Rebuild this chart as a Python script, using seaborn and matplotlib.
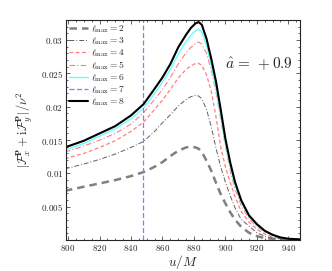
import numpy as np
import matplotlib
matplotlib.use("Agg")
import matplotlib.pyplot as plt
import matplotlib.ticker as mticker
import seaborn as sns

# u/M sample points
u = [798, 810, 820, 830, 840, 848, 855, 860, 865, 870, 875, 878, 881, 883, 885,
     888, 891, 894, 897, 900, 903, 906, 910, 915, 920, 925, 930, 935, 940, 948]

l2 = [0.0074, 0.0080, 0.0085, 0.0090, 0.0096, 0.0102, 0.0110, 0.0117, 0.0126, 0.0134,
      0.0139, 0.0140, 0.0139, 0.0137, 0.0132, 0.0119, 0.0104, 0.0086, 0.0069, 0.0055,
      0.0042, 0.0031, 0.0020, 0.0011, 0.0006, 0.0003, 0.0002, 0.0001, 0.00005, 0.00002]
l3 = [0.0107, 0.0114, 0.0121, 0.0129, 0.0139, 0.0148, 0.0163, 0.0176, 0.0188, 0.0201,
      0.0211, 0.0215, 0.0217, 0.0216, 0.0212, 0.0196, 0.0170, 0.0138, 0.0110, 0.0087,
      0.0067, 0.0049, 0.0031, 0.0021, 0.0011, 0.0006, 0.0003, 0.0002, 0.0001, 0.00005]
l4 = [0.0122, 0.0130, 0.0139, 0.0149, 0.0163, 0.0177, 0.0196, 0.0210, 0.0226, 0.0243,
      0.0256, 0.0261, 0.0265, 0.0265, 0.0262, 0.0248, 0.0223, 0.0185, 0.0140, 0.0110,
      0.0087, 0.0066, 0.0043, 0.0027, 0.0016, 0.0009, 0.0005, 0.0003, 0.0001, 0.00005]
l5 = [0.0132, 0.0141, 0.0150, 0.0160, 0.0174, 0.0191, 0.0211, 0.0226, 0.0244, 0.0264,
      0.0281, 0.0289, 0.0295, 0.0297, 0.0294, 0.0280, 0.0256, 0.0222, 0.0182, 0.0141,
      0.0105, 0.0078, 0.0052, 0.0032, 0.0020, 0.0012, 0.0007, 0.0004, 0.0002, 0.0001]
l6 = [0.0135, 0.0145, 0.0156, 0.0167, 0.0182, 0.0198, 0.0220, 0.0237, 0.0256, 0.0279,
      0.0298, 0.0307, 0.0314, 0.0316, 0.0312, 0.0292, 0.0262, 0.0228, 0.0187, 0.0145,
      0.0111, 0.0083, 0.0057, 0.0035, 0.0022, 0.0013, 0.0007, 0.0004, 0.0002, 0.0001]
l8 = [0.0139, 0.0149, 0.0160, 0.0171, 0.0187, 0.0204, 0.0227, 0.0244, 0.0264, 0.0289,
      0.0308, 0.0318, 0.0325, 0.0327, 0.0323, 0.0302, 0.0272, 0.0238, 0.0196, 0.0152,
      0.0117, 0.0088, 0.0060, 0.0037, 0.0024, 0.0014, 0.0008, 0.0004, 0.0002, 0.0001]
u_l7 = 847.5  # l_max = 7 only shows up as a vertical line

x_ticks = [800, 820, 840, 860, 880, 900, 920, 940]
y_ticks = [0.005, 0.01, 0.015, 0.02, 0.025, 0.03]
y_labels = ["0.005", "0.01", "0.015", "0.02", "0.025", "0.03"]

sns.set_style("ticks")
plt.rcParams["font.family"] = ["DejaVu Serif"]
plt.rcParams["mathtext.fontset"] = "cm"

fig = plt.figure(figsize=(3.32, 2.71), dpi=100)
ax = fig.add_axes([0.198, 0.114, 0.706, 0.812])

styles = [
    (l2, r"$\ell_{\rm max}=2$", "#808080", (0, (3, 2)), 1.8),
    (l3, r"$\ell_{\rm max}=3$", "#606060", (0, (5, 2, 1, 2)), 0.7),
    (l4, r"$\ell_{\rm max}=4$", "#ff7f7f", (0, (3, 2)), 0.9),
    (l5, r"$\ell_{\rm max}=5$", "#ff7f7f", (0, (5, 2, 1, 2)), 0.8),
    (l6, r"$\ell_{\rm max}=6$", "#66ffff", "-", 1.0),
]
for vals, lab, col, ls, lw in styles:
    sns.lineplot(x=u, y=vals, ax=ax, color=col, linestyle=ls, linewidth=lw, label=lab)

ax.axvline(u_l7, color="#8080ff", linestyle=(0, (4, 2)), linewidth=0.9, label=r"$\ell_{\rm max}=7$")
sns.lineplot(x=u, y=l8, ax=ax, color="black", linewidth=1.5, label=r"$\ell_{\rm max}=8$")

ax.set_xlim(798.5, 947.5)
ax.set_ylim(0, 0.033)
ax.set_xticks(x_ticks)
ax.set_yticks(y_ticks)
ax.xaxis.set_major_formatter(mticker.FuncFormatter(lambda v, p: r"$\mathrm{%d}$" % v))
ax.set_yticklabels([r"$\mathrm{%s}$" % s for s in y_labels])
ax.xaxis.set_minor_locator(mticker.MultipleLocator(5))
ax.yaxis.set_minor_locator(mticker.MultipleLocator(0.001))
ax.tick_params(which="both", direction="in", top=True, right=True, labelsize=6.5, width=0.5, pad=2)
ax.tick_params(which="major", length=3)
ax.tick_params(which="minor", length=1.5)
for s in ax.spines.values():
    s.set_linewidth(0.8)

ax.set_xlabel(r"$u/M$", fontsize=9.5, labelpad=0)
ax.set_ylabel(r"$|\mathcal{F}^{\mathbf{P}}_x + \mathrm{i}\mathcal{F}^{\mathbf{P}}_y|/\nu^2$", fontsize=9, labelpad=4)
ax.text(0.68, 0.78, r"$\hat{a}\,=\,+0.9$", transform=ax.transAxes, fontsize=11)

ax.legend(loc="upper left", frameon=False, fontsize=6.9, handlelength=2.0,
          handletextpad=0.3, labelspacing=0.05, borderaxespad=0.1, borderpad=0.2)

fig.savefig("out.png", dpi=100)
